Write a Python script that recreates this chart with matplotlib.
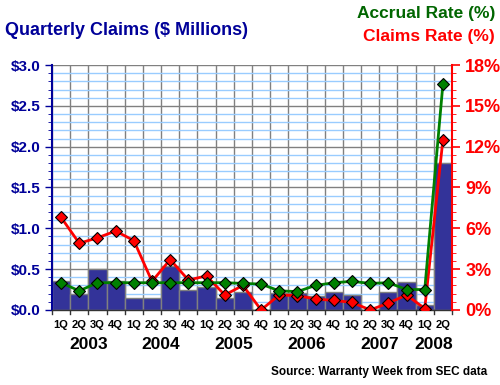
import numpy as np
import matplotlib.pyplot as plt
from matplotlib.ticker import MultipleLocator, FuncFormatter

plt.rcParams['font.family'] = ['Liberation Sans', 'DejaVu Sans']
plt.rcParams['font.weight'] = 'bold'

# data
quarters = ['1Q', '2Q', '3Q', '4Q'] * 5 + ['1Q', '2Q']
years = ['2003', '2004', '2005', '2006', '2007', '2008']
claims = [0.35, 0.20, 0.50, 0.35, 0.15, 0.15, 0.54, 0.24, 0.28, 0.15, 0.22, 0.0,
          0.21, 0.21, 0.17, 0.22, 0.18, 0.0, 0.22, 0.34, 0.06, 1.80]
accrual_rate = [2.0, 1.4, 2.0, 2.0, 2.0, 2.0, 2.0, 2.0, 2.0, 2.0, 1.95, 1.9,
                1.4, 1.35, 1.8, 2.0, 2.1, 1.95, 2.0, 1.5, 1.5, 16.6]
claims_rate = [6.8, 4.9, 5.3, 5.8, 5.1, 2.1, 3.7, 2.2, 2.5, 1.1, 1.8, 0.0,
               1.1, 1.05, 0.8, 0.7, 0.55, 0.0, 0.5, 1.1, 0.1, 12.5]

navy = '#000099'
x = np.arange(len(claims))

fig = plt.figure(figsize=(5, 3.85), dpi=100)
ax = fig.add_axes([0.104, 0.195, 0.80, 0.636])

# grid
ax.set_axisbelow(True)
ax.yaxis.set_minor_locator(MultipleLocator(0.1))
ax.yaxis.set_major_locator(MultipleLocator(0.5))
ax.grid(which='minor', axis='y', color='#99ccff', linewidth=1)
ax.grid(which='major', axis='y', color='#808080', linewidth=1)
for b in np.arange(-0.5, len(claims), 1):
    ax.axvline(b, color='#808080', linewidth=1, zorder=0.5)

ax.bar(x, claims, width=1.0, color='#333399', edgecolor='#808080', linewidth=1, zorder=2)
ax.set_xlim(-0.5, len(claims) - 0.5)
ax.set_ylim(0, 3.0)
ax.yaxis.set_major_formatter(FuncFormatter(lambda v, p: f'${v:.1f}'))
ax.tick_params(axis='y', which='major', colors=navy, labelsize=11, length=5, width=1)
ax.tick_params(axis='y', which='minor', colors=navy, length=3)
ax.set_xticks([])
for s in ['top', 'right', 'bottom']:
    ax.spines[s].set_visible(False)
ax.spines['left'].set_color(navy)
ax.spines['left'].set_linewidth(1.5)

ax2 = ax.twinx()
ax2.plot(x, claims_rate, color='red', linewidth=2, marker='D', markersize=6,
         markerfacecolor='red', markeredgecolor='black', markeredgewidth=0.8, zorder=3)
ax2.plot(x, accrual_rate, color='#008000', linewidth=2, marker='D', markersize=6,
         markerfacecolor='#008000', markeredgecolor='black', markeredgewidth=0.8, zorder=4)
ax2.set_ylim(0, 18)
ax2.yaxis.set_major_locator(MultipleLocator(3))
ax2.yaxis.set_minor_locator(MultipleLocator(0.6))
ax2.yaxis.set_major_formatter(FuncFormatter(lambda v, p: f'{v:.0f}%'))
ax2.tick_params(axis='y', which='major', colors='red', labelsize=13, length=6, width=1.2)
ax2.tick_params(axis='y', which='minor', colors='red', length=3)
for s in ['top', 'left', 'bottom']:
    ax2.spines[s].set_visible(False)
ax2.spines['right'].set_color('red')
ax2.spines['right'].set_linewidth(1.5)
ax2.set_xlim(-0.5, len(claims) - 0.5)

# bottom axis line with ticks
ax.axhline(0, color='#333333', linewidth=1, zorder=5, clip_on=False)
trans = ax.get_xaxis_transform()
for b in np.arange(-0.5, len(claims), 1):
    ax.plot([b, b], [0, -0.015], color='#333333', linewidth=1, transform=trans, clip_on=False)

# x labels
for i, q in enumerate(quarters):
    ax.text(i, -0.04, q, transform=trans, ha='center', va='top', fontsize=8)
for k, yr in enumerate(years):
    center = 4 * k + 1.5 if k < 5 else 20.5
    ax.text(center, -0.11, yr, transform=trans, ha='center', va='top', fontsize=12.5)

fig.text(0.01, 0.92, 'Quarterly Claims ($ Millions)', color=navy, fontsize=13, ha='left', va='center')
fig.text(0.99, 0.965, 'Accrual Rate (%)', color='#006600', fontsize=12.5, ha='right', va='center')
fig.text(0.99, 0.905, 'Claims Rate (%)', color='red', fontsize=12.5, ha='right', va='center')
fig.text(0.975, 0.035, 'Source: Warranty Week from SEC data', color='black', fontsize=8.5, ha='right', va='center')

fig.savefig('out.png', dpi=100, facecolor='white')
